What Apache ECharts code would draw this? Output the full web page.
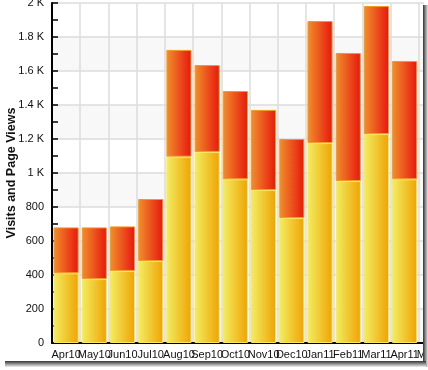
<!DOCTYPE html>
<html><head><meta charset="utf-8">
<script src="https://cdn.jsdelivr.net/npm/echarts@6/dist/echarts.min.js"></script>
<style>html,body{margin:0;padding:0;background:#fff}#c{width:428px;height:370px}</style>
</head><body><div id="c"></div>
<script>
const categories = ['Apr10','May10','Jun10','Jul10','Aug10','Sep10','Oct10','Nov10','Dec10','Jan11','Feb11','Mar11','Apr11','May11'];
const visits = [410, 376, 424, 482, 1096, 1124, 963, 900, 735, 1176, 953, 1229, 963, null];
const pageViews = [270, 304, 262, 365, 628, 511, 519, 471, 465, 718, 753, 753, 696, null];
const yTicks = {min: 0, max: 2000, interval: 200};
const yTitle = 'Visits and Page Views';

const chart = echarts.init(document.getElementById('c'), null, {renderer: 'canvas'});
const grad = (a, b) => new echarts.graphic.LinearGradient(0, 0, 1, 0, [{offset: 0, color: a}, {offset: 1, color: b}]);
chart.setOption({
  animation: false,
  backgroundColor: '#fff',
  grid: {left: 52, top: 3, bottom: 27, right: -19, containLabel: false, outerBoundsMode: 'none'},
  xAxis: {
    type: 'category', data: categories,
    axisLine: {lineStyle: {color: '#000', width: 2}},
    axisTick: {inside: true, length: 5, lineStyle: {color: '#000', width: 1.5}},
    axisLabel: {color: '#111', fontFamily: 'Liberation Sans', fontSize: 11, margin: 6, interval: 0},
    splitLine: {show: true, lineStyle: {color: '#dcdcdc', width: 1.5}}
  },
  yAxis: {
    type: 'value', min: yTicks.min, max: yTicks.max, interval: yTicks.interval,
    name: yTitle, nameLocation: 'middle', nameGap: 34, nameMoveOverlap: false,
    nameTextStyle: {fontFamily: 'Liberation Sans', fontWeight: 'bold', fontSize: 12.5, color: '#111'},
    axisLine: {show: true, lineStyle: {color: '#000', width: 2}},
    axisTick: {show: true, inside: true, length: 6, lineStyle: {color: '#000', width: 1.5}},
    minorTick: {show: true, splitNumber: 2, length: 6, lineStyle: {color: '#000', width: 1.5}},
    axisLabel: {color: '#111', fontFamily: 'Liberation Sans', fontSize: 11, margin: 8,
      formatter: v => v >= 1000 ? (v / 1000) + ' K' : String(v)},
    splitLine: {show: true, lineStyle: {color: '#dcdcdc', width: 1.5}},
    splitArea: {show: true, areaStyle: {color: ['#f8f8f8', '#ffffff']}}
  },
  series: [
    {type: 'bar', stack: 't', data: visits, barCategoryGap: '11%',
      itemStyle: {color: grad('#f2ee62', '#f0a202'), borderColor: '#fbe85a', borderWidth: 1}},
    {type: 'bar', stack: 't', data: pageViews, barCategoryGap: '11%',
      itemStyle: {color: grad('#f0902c', '#e8160e'), borderColor: '#f39a22', borderWidth: 1}}
  ],
  graphic: [
    {type: 'rect', z: 100, shape: {x: 424, y: 0, width: 10, height: 370}, style: {fill: '#fff'}},
    {type: 'rect', z: 100, shape: {x: 0, y: 362, width: 434, height: 10}, style: {fill: '#fff'}},
    {type: 'rect', z: 101, shape: {x: 423, y: 5, width: 5, height: 362},
      style: {fill: new echarts.graphic.LinearGradient(0, 0, 1, 0, [{offset: 0, color: '#333'}, {offset: 1, color: '#e8e8e8'}])}},
    {type: 'rect', z: 101, shape: {x: 5, y: 361, width: 421, height: 6},
      style: {fill: new echarts.graphic.LinearGradient(0, 0, 0, 1, [{offset: 0, color: '#333'}, {offset: 1, color: '#f0f0f0'}])}}
  ]
});
</script></body></html>
